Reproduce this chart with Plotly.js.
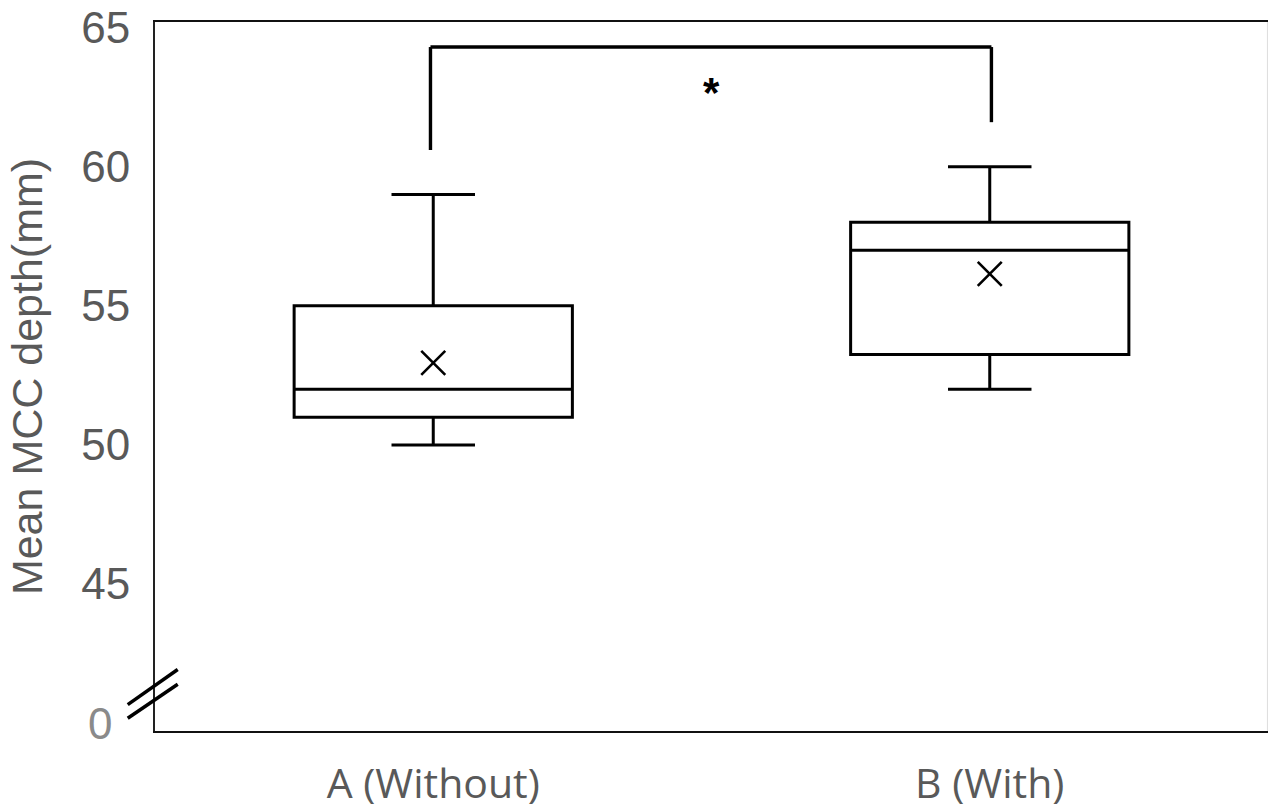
<!DOCTYPE html>
<html>
<head>
<meta charset="utf-8">
<script src="https://cdn.plot.ly/plotly-3.0.1.min.js"></script>
<style>
html,body{margin:0;padding:0;background:#fff;}
#chart{width:1269px;height:807px;}
</style>
</head>
<body>
<div id="chart"></div>
<script>
const categories = ['A (Without)', 'B (With)'];
const q1Values = [51, 53.25];
const medianValues = [52, 57];
const q3Values = [55, 58];
const lowerWhisker = [50, 52];
const upperWhisker = [59, 60];
const meanValues = [52.95, 56.15];
const tickVals = [40, 45, 50, 55, 60, 65];
const tickLabels = ['', '45', '50', '55', '60', '65'];
const breakLabel = '0';
const breakValue = 40;
const bracketLeftLeg = 60.6;
const bracketRightLeg = 61.6;
const bracketTop = 64.3;
const sigLabel = '<b>*</b>';

const boxTrace = {
  type: 'box',
  x: categories,
  q1: q1Values,
  median: medianValues,
  q3: q3Values,
  lowerfence: lowerWhisker,
  upperfence: upperWhisker,
  boxpoints: false,
  width: 0.5,
  whiskerwidth: 0.3,
  fillcolor: '#ffffff',
  line: {color: '#000000', width: 3},
  hoverinfo: 'skip',
  showlegend: false
};

const meanTrace = {
  type: 'scatter',
  mode: 'markers',
  x: categories,
  y: meanValues,
  marker: {symbol: 'x-thin-open', size: 24, color: '#000', line: {color: '#000', width: 2.6}},
  hoverinfo: 'skip',
  showlegend: false
};

const shapes = [
  {type: 'line', xref: 'x', yref: 'y', x0: -0.005, x1: -0.005, y0: bracketLeftLeg, y1: bracketTop, line: {color: '#000', width: 3.4}},
  {type: 'line', xref: 'x', yref: 'y', x0: -0.005, x1: 1.003, y0: bracketTop, y1: bracketTop, line: {color: '#000', width: 3.4}},
  {type: 'line', xref: 'x', yref: 'y', x0: 1.003, x1: 1.003, y0: bracketTop, y1: bracketRightLeg, line: {color: '#000', width: 3.4}},
  // axis break marks
  {type: 'line', xref: 'paper', yref: 'y', x0: -0.0245, x1: 0.0204, y0: 40.67, y1: 41.93, line: {color: '#000', width: 3.5}},
  {type: 'line', xref: 'paper', yref: 'y', x0: -0.0245, x1: 0.0204, y0: 40.18, y1: 41.40, line: {color: '#000', width: 3.5}},
  // faint right border
  {type: 'line', xref: 'paper', yref: 'paper', x0: 0.9995, x1: 0.9995, y0: 0, y1: 1, line: {color: '#dddddd', width: 1}}
];

const layout = {
  width: 1269,
  height: 807,
  margin: {l: 155, r: 1, t: 22, b: 76},
  paper_bgcolor: '#ffffff',
  plot_bgcolor: '#ffffff',
  showlegend: false,
  xaxis: {
    type: 'category',
    range: [-0.5, 1.5],
    showgrid: false,
    zeroline: false,
    showline: true,
    mirror: true,
    linecolor: '#111',
    linewidth: 2,
    ticks: '',
    ticklabelstandoff: 16,
    tickfont: {family: 'Open Sans, Noto Sans, sans-serif', size: 41, color: '#595959'},
    fixedrange: true
  },
  yaxis: {
    range: [39.72, 65.2],
    tickvals: tickVals,
    ticktext: tickLabels,
    showgrid: false,
    zeroline: false,
    showline: true,
    linecolor: '#222',
    linewidth: 2,
    ticks: '',
    ticklabelstandoff: 14,
    tickfont: {family: 'Liberation Sans, Arial, sans-serif', size: 44, color: '#595959'},
    title: {text: 'Mean MCC depth(mm)', font: {family: 'Liberation Sans, Arial, sans-serif', size: 43, color: '#595959'}, standoff: 25},
    fixedrange: true
  },
  shapes: shapes,
  annotations: [
    {xref: 'x', yref: 'y', x: 0.5, y: 62.65, text: sigLabel, showarrow: false,
     font: {family: 'Liberation Sans, Arial, sans-serif', size: 42, color: '#000'}},
    {xref: 'paper', yref: 'y', x: -0.0365, y: breakValue, xanchor: 'right', yanchor: 'middle', text: breakLabel, showarrow: false,
     font: {family: 'Liberation Sans, Arial, sans-serif', size: 44, color: '#8a8a8a'}}
  ]
};

Plotly.newPlot('chart', [boxTrace, meanTrace], layout, {displayModeBar: false, staticPlot: true});
</script>
</body>
</html>
